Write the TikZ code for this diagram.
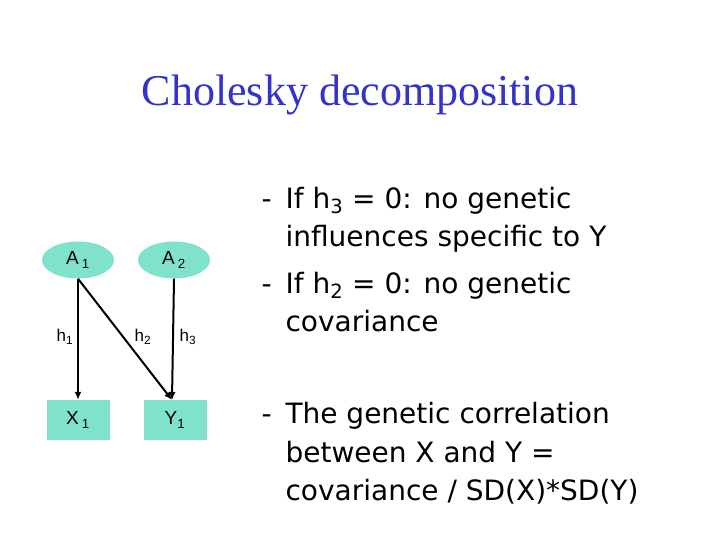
\documentclass[tikz,border=0pt]{standalone}
\usepackage{fontspec}
\setmainfont{Liberation Serif}
\newfontfamily\arialf{Liberation Sans}
\newfontfamily\tahf{DejaVu Sans}
\usetikzlibrary{shapes.geometric,arrows.meta}
\definecolor{teal1}{RGB}{128,226,204}
\definecolor{ttl}{RGB}{51,51,204}
\newcommand{\sbs}[1]{\textsubscript{#1}}
\begin{document}
\begin{tikzpicture}[x=1pt,y=-1pt,
  lat/.style={ellipse,fill=teal1,minimum width=72pt,minimum height=37pt,inner sep=0pt,font=\arialf\fontsize{19}{22}\selectfont},
  obs/.style={rectangle,fill=teal1,minimum width=63pt,minimum height=40pt,inner sep=0pt,font=\arialf\fontsize{19}{22}\selectfont},
  path/.style={line width=2pt,-{Latex[length=8pt,width=7pt]}},
  lbl/.style={font=\arialf\fontsize{17}{20}\selectfont},
  bl/.style={anchor=base west,font=\tahf\fontsize{28}{32}\selectfont}]
\useasboundingbox (0,0) rectangle (720,540);
\node[font=\fontsize{44}{50}\selectfont,text=ttl] (title) at (360,95) {Cholesky decomposition};
\node[lat] (a1) at (78,260) {A\,\sbs{1}};
\node[lat] (a2) at (174,260) {A\,\sbs{2}};
\node[obs] (x1) at (78,420) {X\,\sbs{1}};
\node[obs] (y1) at (175,420) {Y\sbs{1}};
\coordinate (ya) at (172,400);
\draw[path] (a1.south) -- (x1.north);
\draw[path] (a1.south) -- (ya);
\draw[path] (a2.south) -- (ya);
\node[lbl] (l1) at (65,337) {h\sbs{1}};
\node[lbl] (l2) at (143,337) {h\sbs{2}};
\node[lbl] (l3) at (188,337) {h\sbs{3}};
\node[bl] (d1) at (258,208) {-};
\node[bl] (t1) at (282,208) {If h\sbs{3} = 0: no genetic};
\node[bl] (t2) at (282,247) {influences specific to Y};
\node[bl] (d2) at (258,293) {-};
\node[bl] (t3) at (282,293) {If h\sbs{2} = 0: no genetic};
\node[bl] (t4) at (282,331) {covariance};
\node[bl] (d3) at (258,423) {-};
\node[bl] (t5) at (282,423) {The genetic correlation};
\node[bl] (t6) at (282,462) {between X and Y =};
\node[bl] (t7) at (282,500) {covariance / SD(X)*SD(Y)};
\end{tikzpicture}
\end{document}
